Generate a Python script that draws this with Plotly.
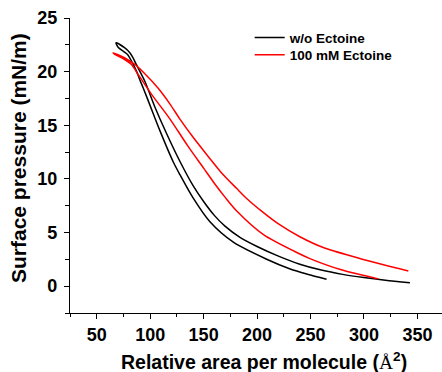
import plotly.graph_objects as go

# w/o Ectoine isotherm (compression branch, from large area to top)
wo_comp_area = [343, 320, 300, 280, 260, 240, 220, 200, 184, 170, 160, 150, 140, 128, 115, 104, 95, 87, 84, 81, 76, 68]
wo_comp_pressure = [0.31, 0.55, 0.80, 1.10, 1.50, 2.05, 2.80, 3.70, 4.55, 5.6, 6.6, 7.9, 9.4, 11.6, 14.3, 16.8, 19.1, 20.67, 21.29, 21.76, 22.23, 22.69]
# w/o Ectoine isotherm (expansion branch, from top down)
wo_exp_area = [70, 74.7, 78.8, 82.5, 87.2, 90.3, 93.4, 99.7, 109.1, 121.5, 127.8, 140.3, 155.9, 177.8, 209, 231, 247, 265]
wo_exp_pressure = [22.28, 21.91, 21.6, 20.98, 20.05, 19.25, 18.5, 16.9, 14.5, 11.6, 10.4, 8.2, 6.0, 4.1, 2.51, 1.60, 1.12, 0.65]

# 100 mM Ectoine isotherm
ec_comp_area = [341.5, 320, 293, 262, 240, 220, 206, 190, 181, 166, 155, 140, 128, 118.4, 107.5, 95, 85.6, 76.3, 65.3]
ec_comp_pressure = [1.42, 1.95, 2.67, 3.6, 4.61, 5.8, 6.85, 8.2, 9.1, 10.65, 12.0, 13.9, 15.55, 17.0, 18.45, 19.8, 20.67, 21.29, 21.76]
ec_exp_area = [66.9, 75, 82.5, 88.7, 95.0, 101.3, 118.4, 135, 150, 160, 170, 181, 206, 240, 250, 278, 313.5]
ec_exp_pressure = [21.6, 21.2, 20.67, 19.74, 18.81, 17.88, 15.6, 13.1, 11.0, 9.6, 8.3, 7.0, 4.8, 3.0, 2.55, 1.55, 0.68]

series_names = ["w/o Ectoine", "100 mM Ectoine"]
series_colors = ["#000000", "#ff0000"]

x_tick_vals = [50, 100, 150, 200, 250, 300, 350]
y_tick_vals = [0, 5, 10, 15, 20, 25]

x_title = 'Relative area per molecule (<span style="font-family:\'Liberation Serif\', serif;font-weight:normal">Å</span><sup>2</sup>)'
y_title = "Surface pressure (mN/m)"

FONT = "Liberation Sans, Arial, sans-serif"

fig = go.Figure()
fig.add_trace(go.Scatter(
    x=wo_comp_area + wo_exp_area,
    y=wo_comp_pressure + wo_exp_pressure,
    mode="lines", name=series_names[0], legend="legend",
    line=dict(color=series_colors[0], width=1.5, shape="spline", smoothing=0.8),
))
fig.add_trace(go.Scatter(
    x=ec_comp_area + ec_exp_area,
    y=ec_comp_pressure + ec_exp_pressure,
    mode="lines", name=series_names[1], legend="legend2",
    line=dict(color=series_colors[1], width=1.5, shape="spline", smoothing=0.8),
))

axis_common = dict(
    showgrid=False, zeroline=False, showline=True, linecolor="black", linewidth=1.3,
    ticks="outside", ticklen=5, tickwidth=1.3, tickcolor="black", automargin=False,
    tickfont=dict(family=FONT, size=18, color="black", weight="bold"),
)

fig.update_xaxes(
    range=[25, 373], tickmode="array", tickvals=x_tick_vals,
    minor=dict(ticks="outside", ticklen=3, tickwidth=1.2, tickcolor="black", dtick=25, tick0=25),
    ticklabelstandoff=0,
    **axis_common,
)
fig.update_yaxes(
    range=[-2.5, 25], tickmode="array", tickvals=y_tick_vals,
    minor=dict(ticks="outside", ticklen=3.5, tickwidth=1.2, tickcolor="black", dtick=2.5, tick0=2.5),
    ticklabelstandoff=3,
    **axis_common,
)

legend_font = dict(family=FONT, size=13.5, color="black", weight="bold")
fig.update_layout(
    width=442, height=372,
    margin=dict(l=70, r=0, t=18, b=59),
    paper_bgcolor="white", plot_bgcolor="white",
    showlegend=True,
    legend=dict(x=0.483, y=0.986, xanchor="left", yanchor="top",
                bgcolor="rgba(0,0,0,0)", borderwidth=0, font=legend_font),
    legend2=dict(x=0.483, y=0.927, xanchor="left", yanchor="top",
                 bgcolor="rgba(0,0,0,0)", borderwidth=0, font=legend_font),
    annotations=[
        dict(text=x_title, xref="paper", yref="paper",
             x=(264 - 70) / 372, y=-(361 - 313) / 295, xanchor="center", yanchor="middle",
             showarrow=False, font=dict(family=FONT, size=19.5, color="black", weight="bold")),
        dict(text=y_title, xref="paper", yref="paper", textangle=-90,
             x=-(70 - 18) / 372, y=(313 - 158) / 295, xanchor="center", yanchor="middle",
             showarrow=False, font=dict(family=FONT, size=21, color="black", weight="bold")),
    ],
)

fig.write_html("out.html", config={"displayModeBar": False},
               post_script="document.body.style.margin='0';document.body.style.padding='0';")
